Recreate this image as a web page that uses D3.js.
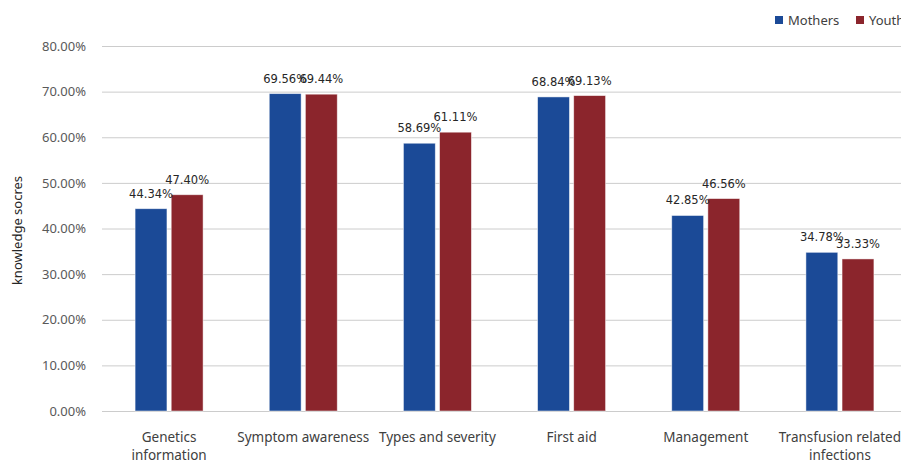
<!DOCTYPE html>
<html>
<head>
<meta charset="utf-8">
<script src="https://cdn.jsdelivr.net/npm/d3@7"></script>
<style>
  html, body { margin: 0; padding: 0; background: #fff; }
  svg { display: block; }
</style>
</head>
<body>
<svg id="chart" width="901" height="461"></svg>
<script>
// Knowledge scores by topic for the two groups
const categories = [
  ["Genetics", "information"],
  ["Symptom awareness"],
  ["Types and severity"],
  ["First aid"],
  ["Management"],
  ["Transfusion related", "infections"]
];
const mothers = [44.34, 69.56, 58.69, 68.84, 42.85, 34.78];
const youth   = [47.40, 69.44, 61.11, 69.13, 46.56, 33.33];
const seriesNames = ["Mothers", "Youth"];
const yTicks = [0, 10, 20, 30, 40, 50, 60, 70, 80];

const colors = { Mothers: "#1B4A97", Youth: "#8B252C" };

const svg = d3.select("#chart");
const margin = { left: 102, right: -6, top: 46, bottom: 50 };
const W = 901, H = 461;

const x = d3.scaleBand()
  .domain(d3.range(categories.length))
  .range([margin.left, W - margin.right])
  .paddingInner(0).paddingOuter(0);

const y = d3.scaleLinear().domain([0, 80]).range([H - margin.bottom, margin.top]);

const inner = d3.scaleBand().domain(seriesNames).range([-34, 34]).paddingInner(8 / 68);

// Gridlines and tick labels
const yAxis = d3.axisLeft(y)
  .tickValues(yTicks)
  .tickSize(-(W - margin.right - margin.left))
  .tickPadding(16)
  .tickFormat(d => d.toFixed(2) + "%");

const gy = svg.append("g")
  .attr("transform", `translate(${margin.left},0)`)
  .call(yAxis);
gy.select(".domain").remove();
gy.selectAll(".tick line").attr("stroke", "#cccccc").attr("stroke-width", 1);
gy.selectAll(".tick text")
  .attr("fill", "#595959")
  .style("font-family", "'Noto Sans', 'Open Sans', sans-serif")
  .style("font-size", "13px");

// Bars
const rows = categories.map((c, i) => ({ i, Mothers: mothers[i], Youth: youth[i] }));
const groups = svg.append("g").selectAll("g")
  .data(rows).join("g")
  .attr("transform", d => `translate(${x(d.i) + x.bandwidth() / 2},0)`);

groups.selectAll("rect")
  .data(d => seriesNames.map(s => ({ s, v: d[s] })))
  .join("rect")
  .attr("x", d => inner(d.s))
  .attr("width", inner.bandwidth())
  .attr("y", d => y(d.v))
  .attr("height", d => y(0) - y(d.v))
  .attr("fill", d => colors[d.s])
  .attr("stroke", "rgba(255,255,255,0.6)")
  .attr("stroke-width", 0.8);

groups.selectAll("text.val")
  .data(d => seriesNames.map(s => ({ s, v: d[s] })))
  .join("text")
  .attr("class", "val")
  .attr("x", d => inner(d.s) + inner.bandwidth() / 2)
  .attr("y", d => y(d.v) - 11)
  .attr("text-anchor", "middle")
  .attr("fill", "#262626")
  .style("font-family", "'DejaVu Sans', sans-serif")
  .style("font-size", "11.5px")
  .text(d => d.v.toFixed(2) + "%");

// Category labels
const catText = svg.append("g").selectAll("text")
  .data(categories).join("text")
  .attr("x", (d, i) => x(i) + x.bandwidth() / 2)
  .attr("y", 442)
  .attr("text-anchor", "middle")
  .attr("fill", "#404040")
  .style("font-family", "'Noto Sans', 'Open Sans', sans-serif")
  .style("font-size", "13.5px");
catText.selectAll("tspan")
  .data(d => d).join("tspan")
  .attr("x", function () { return this.parentNode.getAttribute("x"); })
  .attr("dy", (d, k) => k === 0 ? 0 : 18)
  .text(d => d);

// Axis title
svg.append("text")
  .attr("transform", `translate(22,${(y(0) + y(80)) / 2 + 2}) rotate(-90)`)
  .attr("text-anchor", "middle")
  .attr("fill", "#262626")
  .style("font-family", "'Noto Sans', 'Open Sans', sans-serif")
  .style("font-size", "13px")
  .text("knowledge socres");

// Legend
const legend = svg.append("g").attr("transform", "translate(775,15)");
const legX = [0, 81];
seriesNames.forEach((s, k) => {
  const g = legend.append("g").attr("transform", `translate(${legX[k]},0)`);
  g.append("rect").attr("width", 8).attr("height", 8).attr("y", 1).attr("fill", colors[s]);
  g.append("text")
    .attr("x", 13).attr("y", 10)
    .attr("fill", "#404040")
    .style("font-family", "'Noto Sans', 'Open Sans', sans-serif")
    .style("font-size", "13px")
    .text(s);
});
</script>
</body>
</html>
